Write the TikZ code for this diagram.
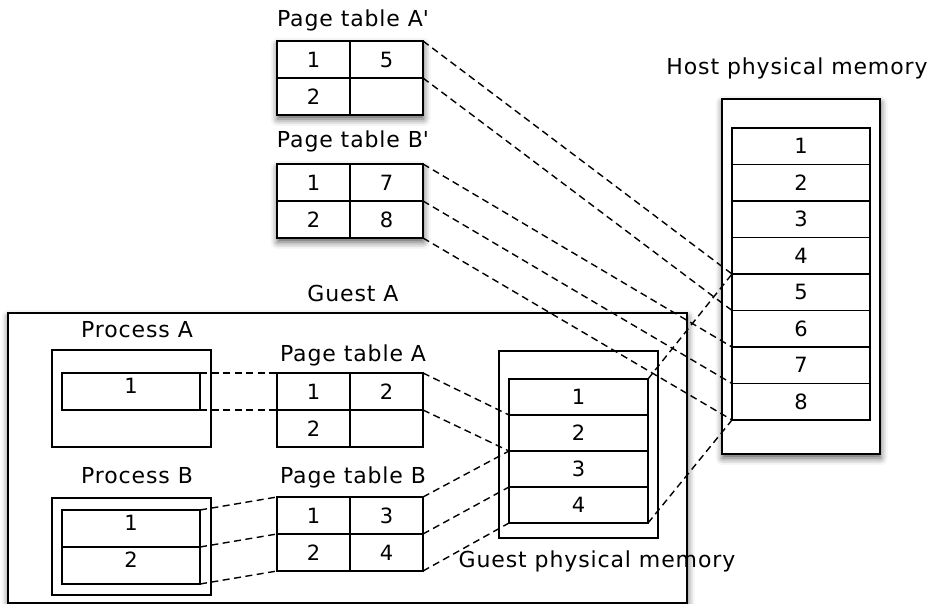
\documentclass[tikz,border=0pt]{standalone}
\usepackage{fontspec}
\setmainfont{DejaVu Sans}[LetterSpace=4]
\usetikzlibrary{shadows.blur}

\tikzset{
  box/.style={draw, fill=white, line width=1.8pt, inner sep=0pt, outer sep=0pt, anchor=north west},
  cell/.style={box, minimum width=73pt, minimum height=37pt},
  slot/.style={box, minimum width=138pt, minimum height=#1},
  slot/.default=37pt,
  raised/.style={text depth=12pt},
  shadowed/.style={blur shadow={shadow xshift=0.5pt, shadow yshift=-4pt, shadow blur radius=7pt, shadow opacity=65}},
  lbl/.style={anchor=base, inner sep=0pt, font=\fontsize{22}{26}\selectfont},
  link/.style={line width=1.4pt, dash pattern=on 7pt off 4.5pt}
}

\begin{document}
\begin{tikzpicture}[x=1pt, y=-1pt, font=\fontsize{21}{24}\selectfont]
  \useasboundingbox (0,0) rectangle (939,604);

  % Guest A
  \node[box, shadowed, minimum width=679pt, minimum height=290pt] (guest) at (8,313) {};
  \node[lbl] (lguest) at (353,301) {Guest A};

  % processes inside the guest
  \node[box, minimum width=159pt, minimum height=97pt] (procA) at (52,350) {};
  \node[slot, raised] (procA-1) at (62,373) {1};
  \node[lbl] (lprocA) at (137,337) {Process A};

  \node[box, minimum width=159pt, minimum height=97pt] (procB) at (52,498) {};
  \node[slot, raised] (procB-1) at (62,510) {1};
  \node[slot, raised] (procB-2) at (62,547) {2};
  \node[lbl] (lprocB) at (137,483) {Process B};

  % page tables (host ones get a shadow)
  \node[box, shadowed, minimum width=146pt, minimum height=74pt] (ptAp) at (277,41) {};
  \node[box, shadowed, minimum width=146pt, minimum height=74pt] (ptBp) at (277,164) {};
  \foreach \t/\y/\ea/\eb/\ec/\ed in {ptAp/41/1/5/2/{}, ptBp/164/1/7/2/8, ptA/373/1/2/2/{}, ptB/497/1/3/2/4} {
    \node[cell] (\t-11) at (277,\y) {\ea};
    \node[cell] (\t-12) at (350,\y) {\eb};
    \node[cell] (\t-21) at (277,\y+37) {\ec};
    \node[cell] (\t-22) at (350,\y+37) {\ed};
  }
  \node[lbl] (lAp) at (353,27) {Page table A\textquotesingle};
  \node[lbl] (lBp) at (353,148) {Page table B\textquotesingle};
  \node[lbl] (lA) at (353,361) {Page table A};
  \node[lbl] (lB) at (353,483) {Page table B};

  % guest physical memory
  \node[box, minimum width=159pt, minimum height=187pt] (gpm) at (499,351) {};
  \foreach \i in {1,...,4}
    \node[slot=36pt, minimum width=139pt] (gpm-\i) at (509,343+36*\i) {\i};
  \node[lbl] (lgpm) at (597,567) {Guest physical memory};

  % host physical memory
  \node[box, shadowed, minimum width=158pt, minimum height=355pt] (host) at (722,99) {};
  \foreach \i in {1,...,8}
    \node[slot=36.5pt] (host-\i) at (732,91.5+36.5*\i) {\i};
  \node[lbl] (lhost) at (797,75) {Host physical memory};

  % mappings
  \draw[link] (procA-1.north east) -- (ptA-11.north west);
  \draw[link] (procA-1.south east) -- (ptA-11.south west);
  \draw[link] (procB-1.north east) -- (ptB-11.north west);
  \draw[link] (procB-1.south east) -- (ptB-11.south west);
  \draw[link] (procB-2.south east) -- (ptB-21.south west);

  \draw[link] (ptA-12.north east) -- (gpm-2.north west);
  \draw[link] (ptA-12.south east) -- (gpm-2.south west);
  \draw[link] (ptB-12.north east) -- (gpm-3.north west);
  \draw[link] (ptB-12.south east) -- (gpm-4.north west);
  \draw[link] (ptB-22.south east) -- (gpm-4.south west);

  \draw[link] (gpm-1.north east) -- (host-5.north west);
  \draw[link] (gpm-4.south east) -- (host-8.south west);

  \draw[link] (ptAp-12.north east) -- (host-5.north west);
  \draw[link] (ptAp-12.south east) -- (host-5.south west);
  \draw[link] (ptBp-12.north east) -- (host-7.north west);
  \draw[link] (ptBp-12.south east) -- (host-7.south west);
  \draw[link] (ptBp-22.south east) -- (host-8.south west);
\end{tikzpicture}
\end{document}
